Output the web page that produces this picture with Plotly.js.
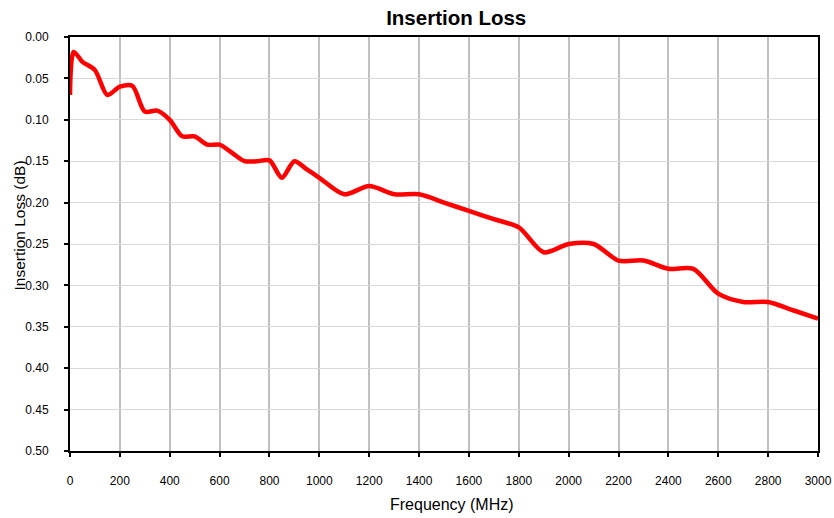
<!DOCTYPE html>
<html>
<head>
<meta charset="utf-8">
<script src="https://cdn.plot.ly/plotly-3.0.1.min.js"></script>
<style>
  body { margin: 0; background: #fff; }
  #chart { width: 834px; height: 518px; }
</style>
</head>
<body>
<div id="chart"></div>
<script>
// Insertion loss
const freqMHz = [0, 15, 50, 100, 150, 200, 250, 300, 350, 400, 450, 500, 550, 600, 650, 700,
                 750, 800, 850, 900, 950, 1000, 1100, 1200, 1300, 1400, 1500, 1600, 1700, 1800,
                 1900, 2000, 2100, 2200, 2300, 2400, 2500, 2600, 2700, 2800, 2900, 3000];
const lossDb = [0.07, 0.018, 0.03, 0.04, 0.07, 0.06, 0.059, 0.09, 0.089, 0.10, 0.12, 0.12, 0.13, 0.13, 0.14, 0.15,
                0.15, 0.149, 0.17, 0.15, 0.16, 0.17, 0.19, 0.18, 0.19, 0.19, 0.20, 0.21, 0.22, 0.23,
                0.26, 0.25, 0.25, 0.27, 0.27, 0.28, 0.28, 0.31, 0.32, 0.32, 0.33, 0.34];

const font = 'Liberation Sans, Arial, sans-serif';

const trace = {
    x: freqMHz,
    y: lossDb,
    type: 'scatter',
    mode: 'lines',
    line: { color: '#ff0000', width: 4.5, shape: 'spline', smoothing: 0.8 },
    hoverinfo: 'x+y',
};

const layout = {
    width: 834,
    height: 518,
    margin: { l: 70, r: 16, t: 37, b: 67 },
    paper_bgcolor: '#ffffff',
    plot_bgcolor: '#ffffff',
    showlegend: false,
    font: { family: font, color: '#000', size: 12 },
    title: {
        text: '<b>Insertion Loss</b>',
        font: { family: font, size: 20.5, color: '#000' },
        x: 0.547, xanchor: 'center', y: 0.966, yanchor: 'middle',
    },
    xaxis: {
        range: [0, 3000],
        tick0: 0,
        dtick: 200,
        ticks: 'outside',
        ticklen: 4,
        tickwidth: 1.5,
        tickcolor: '#000',
        ticklabelstandoff: 14,
        showgrid: true,
        gridcolor: '#c0c0c0',
        gridwidth: 2,
        zeroline: false,
        showline: true,
        linecolor: '#000',
        linewidth: 2,
        mirror: true,
        tickfont: { family: font, size: 12 },
    },
    yaxis: {
        range: [0.5, 0],
        tick0: 0,
        dtick: 0.05,
        tickformat: '.2f',
        ticks: 'outside',
        ticklen: 4,
        tickwidth: 1.5,
        tickcolor: '#000',
        ticklabelstandoff: 13,
        showgrid: true,
        gridcolor: '#d9d9d9',
        gridwidth: 1,
        zeroline: false,
        showline: true,
        linecolor: '#000',
        linewidth: 2,
        mirror: true,
        tickfont: { family: font, size: 12 },
    },
    // axis titles are off-centre in the reference (y one sits over the tick labels), so place them by hand
    annotations: [{
        text: 'Insertion Loss (dB)',
        textangle: -90,
        xref: 'paper', yref: 'paper',
        x: -0.068, y: 0.545,
        xanchor: 'center', yanchor: 'middle',
        showarrow: false,
        font: { family: font, size: 15.5, color: '#000' },
    }, {
        text: 'Frequency (MHz)',
        xref: 'paper', yref: 'paper',
        x: 0.511, y: -0.13,
        xanchor: 'center', yanchor: 'middle',
        showarrow: false,
        font: { family: font, size: 16, color: '#000' },
    }],
};

Plotly.newPlot('chart', [trace], layout, { displayModeBar: false, responsive: false });
</script>
</body>
</html>
